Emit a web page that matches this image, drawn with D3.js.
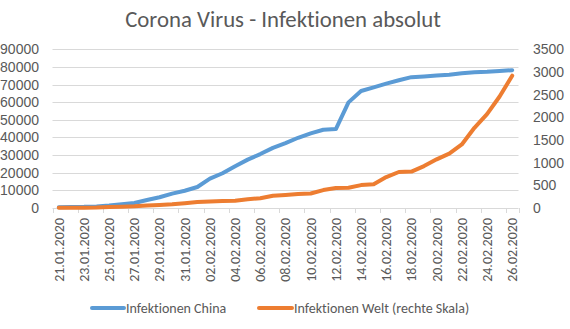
<!DOCTYPE html>
<html>
<head>
<meta charset="utf-8">
<script src="https://cdn.jsdelivr.net/npm/d3@7"></script>
<style>
  html, body { margin: 0; padding: 0; background: #fff; }
  svg { display: block; font-family: Carlito, Lato, "Open Sans", sans-serif; font-variant-ligatures: none; font-feature-settings: "liga" 0, "clig" 0; }
</style>
</head>
<body>
<svg id="chart" width="570" height="329"></svg>
<script>
// Dates (one per day)
const dates = [
  "21.01.2020","22.01.2020","23.01.2020","24.01.2020","25.01.2020","26.01.2020","27.01.2020",
  "28.01.2020","29.01.2020","30.01.2020","31.01.2020","01.02.2020","02.02.2020","03.02.2020",
  "04.02.2020","05.02.2020","06.02.2020","07.02.2020","08.02.2020","09.02.2020","10.02.2020",
  "11.02.2020","12.02.2020","13.02.2020","14.02.2020","15.02.2020","16.02.2020","17.02.2020",
  "18.02.2020","19.02.2020","20.02.2020","21.02.2020","22.02.2020","23.02.2020","24.02.2020",
  "25.02.2020","26.02.2020"
];

// Confirmed infections in China (left scale)
const china = [
  440, 548, 643, 920, 1406, 2075, 2877, 4500, 6100, 8141, 9802, 11891, 16630, 19716,
  23707, 27440, 30587, 34110, 36814, 39829, 42354, 44386, 44759, 59895, 66358, 68413,
  70513, 72434, 74211, 74619, 75077, 75550, 76400, 77022, 77241, 77754, 78166
];

// Confirmed infections outside China (right scale)
const welt = [
  4, 6, 7, 11, 23, 29, 37, 56, 68, 82, 106, 132, 146, 153, 159, 191, 216, 270, 288,
  307, 319, 395, 441, 447, 505, 526, 683, 794, 804, 924, 1073, 1200, 1402, 1769,
  2069, 2459, 2918
];

const leftTicks = [0, 10000, 20000, 30000, 40000, 50000, 60000, 70000, 80000, 90000];
const rightTicks = [0, 500, 1000, 1500, 2000, 2500, 3000, 3500];

const titleText = "Corona Virus - Infektionen absolut";
const seriesNames = ["Infektionen China", "Infektionen Welt (rechte Skala)"];
const colors = ["#5B9BD5", "#ED7D31"];

const svg = d3.select("#chart");
const textColor = "#595959";
const gridColor = "#D9D9D9";
const fs = 14;

const plot = { left: 52.5, right: 518.5, top: 49.3, bottom: 208 };

const x = d3.scaleBand().domain(dates).range([plot.left, plot.right]).padding(0);
const yL = d3.scaleLinear().domain([0, 90000]).range([plot.bottom, plot.top]);
const yR = d3.scaleLinear().domain([0, 3500]).range([plot.bottom, plot.top]);

// Title
svg.append("text")
  .attr("x", 283).attr("y", 27)
  .attr("text-anchor", "middle")
  .attr("fill", textColor)
  .attr("font-size", 22.8)
  .text(titleText);

// Horizontal gridlines
svg.append("g").selectAll("line")
  .data(leftTicks.slice(1))
  .join("line")
  .attr("x1", plot.left).attr("x2", plot.right)
  .attr("y1", d => Math.round(yL(d)) + 0.5).attr("y2", d => Math.round(yL(d)) + 0.5)
  .attr("stroke", gridColor).attr("stroke-width", 1);

// Left value axis labels
const axL = d3.axisLeft(yL).tickValues(leftTicks).tickSize(0).tickPadding(0).tickFormat(d3.format("d"));
const gL = svg.append("g").attr("transform", "translate(39,0)").call(axL);
gL.select(".domain").remove();
gL.selectAll("text").attr("fill", textColor).attr("font-size", fs).attr("font-family", null);

// Right value axis labels
const axR = d3.axisRight(yR).tickValues(rightTicks).tickSize(0).tickPadding(0).tickFormat(d3.format("d"));
const gR = svg.append("g").attr("transform", "translate(533,0)").call(axR);
gR.select(".domain").remove();
gR.selectAll("text").attr("fill", textColor).attr("font-size", fs).attr("font-family", null);

// Category axis: base line, tick marks every second day, rotated labels
const bw = x.bandwidth();
const tickPos = dates.map((d, i) => i).filter(i => i % 2 === 0).map(i => x(dates[i]));
tickPos.push(plot.right);
svg.append("line")
  .attr("x1", plot.left).attr("x2", plot.right)
  .attr("y1", plot.bottom + 0.5).attr("y2", plot.bottom + 0.5)
  .attr("stroke", gridColor);
svg.append("g").selectAll("line")
  .data(tickPos)
  .join("line")
  .attr("x1", d => Math.round(d) + 0.5).attr("x2", d => Math.round(d) + 0.5)
  .attr("y1", plot.bottom).attr("y2", plot.bottom + 5)
  .attr("stroke", gridColor);
svg.append("g").selectAll("text")
  .data(dates.filter((d, i) => i % 2 === 0))
  .join("text")
  .attr("transform", d => `translate(${x(d) + bw / 2},218) rotate(-90)`)
  .attr("text-anchor", "end")
  .attr("dy", "0.35em")
  .attr("fill", textColor)
  .attr("font-size", fs)
  .text(d => d);

// Lines
const lineChina = d3.line().x((d, i) => x(dates[i]) + bw / 2).y(d => yL(d));
const lineWelt = d3.line().x((d, i) => x(dates[i]) + bw / 2).y(d => yR(d));

svg.append("path")
  .datum(china)
  .attr("d", lineChina)
  .attr("fill", "none")
  .attr("stroke", colors[0])
  .attr("stroke-width", 4)
  .attr("stroke-linejoin", "round")
  .attr("stroke-linecap", "round");

svg.append("path")
  .datum(welt)
  .attr("d", lineWelt)
  .attr("fill", "none")
  .attr("stroke", colors[1])
  .attr("stroke-width", 4)
  .attr("stroke-linejoin", "round")
  .attr("stroke-linecap", "round");

// Legend
const legendItems = [
  { name: seriesNames[0], color: colors[0], x0: 92, x1: 124, tx: 126 },
  { name: seriesNames[1], color: colors[1], x0: 259, x1: 292, tx: 294 }
];
const lg = svg.append("g");
legendItems.forEach(it => {
  lg.append("line")
    .attr("x1", it.x0).attr("x2", it.x1)
    .attr("y1", 308).attr("y2", 308)
    .attr("stroke", it.color).attr("stroke-width", 4)
    .attr("stroke-linecap", "round");
  lg.append("text")
    .attr("x", it.tx).attr("y", 308)
    .attr("dy", "0.35em")
    .attr("fill", textColor)
    .attr("font-size", fs)
    .text(it.name);
});
</script>
</body>
</html>
